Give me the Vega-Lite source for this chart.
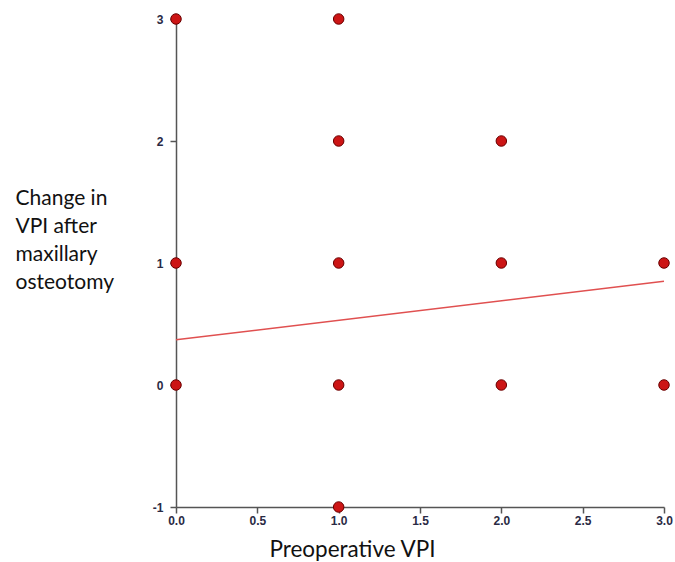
{
  "$schema": "https://vega.github.io/schema/vega-lite/v6.json",
  "autosize": {"type": "none"},
  "padding": {"left": 176, "top": 19, "right": 11, "bottom": 55},
  "width": 488,
  "height": 488,
  "background": "white",
  "config": {"view": {"stroke": null}},
  "layer": [
    {
      "data": {"values": [
        {"pre": 0, "fit": 0.37},
        {"pre": 3, "fit": 0.85}
      ]},
      "mark": {"type": "line", "color": "#e05050", "strokeWidth": 1.5},
      "encoding": {
        "x": {"field": "pre", "type": "quantitative"},
        "y": {"field": "fit", "type": "quantitative"}
      }
    },
    {
      "data": {"values": [
        {"pre": 0, "change": 3},
        {"pre": 0, "change": 1},
        {"pre": 0, "change": 0},
        {"pre": 1, "change": 3},
        {"pre": 1, "change": 2},
        {"pre": 1, "change": 1},
        {"pre": 1, "change": 0},
        {"pre": 1, "change": -1},
        {"pre": 2, "change": 2},
        {"pre": 2, "change": 1},
        {"pre": 2, "change": 0},
        {"pre": 3, "change": 1},
        {"pre": 3, "change": 0}
      ]},
      "mark": {"type": "point", "filled": true, "fill": "#cc1515", "stroke": "#6a0000", "strokeWidth": 1, "size": 110, "opacity": 1},
      "encoding": {
        "x": {
          "field": "pre", "type": "quantitative",
          "scale": {"domain": [0, 3], "nice": false, "zero": false},
          "axis": {
            "title": "Preoperative VPI",
            "values": [0, 0.5, 1, 1.5, 2, 2.5, 3],
            "format": ".1f",
            "grid": false,
            "labelFlush": false,
            "domainColor": "#555555", "domainWidth": 1.5,
            "tickColor": "#555555", "tickWidth": 1.5, "tickSize": 6,
            "labelFont": "Liberation Sans", "labelFontSize": 12, "labelColor": "#2a2a44", "labelFontWeight": "bold",
            "labelPadding": 2,
            "titleFont": "Lato", "titleFontSize": 22.5, "titleFontWeight": "normal", "titleColor": "#111111",
            "titleX": 176, "titleY": 49, "titleAlign": "center", "titleBaseline": "alphabetic"
          }
        },
        "y": {
          "field": "change", "type": "quantitative",
          "scale": {"domain": [-1, 3], "nice": false, "zero": false},
          "axis": {
            "title": ["Change in", "VPI after", "maxillary", "osteotomy"],
            "values": [-1, 0, 1, 2, 3],
            "labelExpr": "toString(datum.value)",
            "grid": false,
            "labelFlush": false,
            "domainColor": "#555555", "domainWidth": 1.5,
            "tickColor": "#555555", "tickWidth": 1.5, "tickSize": 6,
            "labelFont": "Liberation Sans", "labelFontSize": 12, "labelColor": "#2a2a44", "labelFontWeight": "bold",
            "labelPadding": 7,
            "titleFont": "Lato", "titleFontSize": 21, "titleFontWeight": "normal", "titleColor": "#111111",
            "titleAngle": 0, "titleAlign": "left", "titleBaseline": "top",
            "titleX": -161, "titleY": 168, "titleLineHeight": 28
          }
        }
      }
    }
  ]
}
